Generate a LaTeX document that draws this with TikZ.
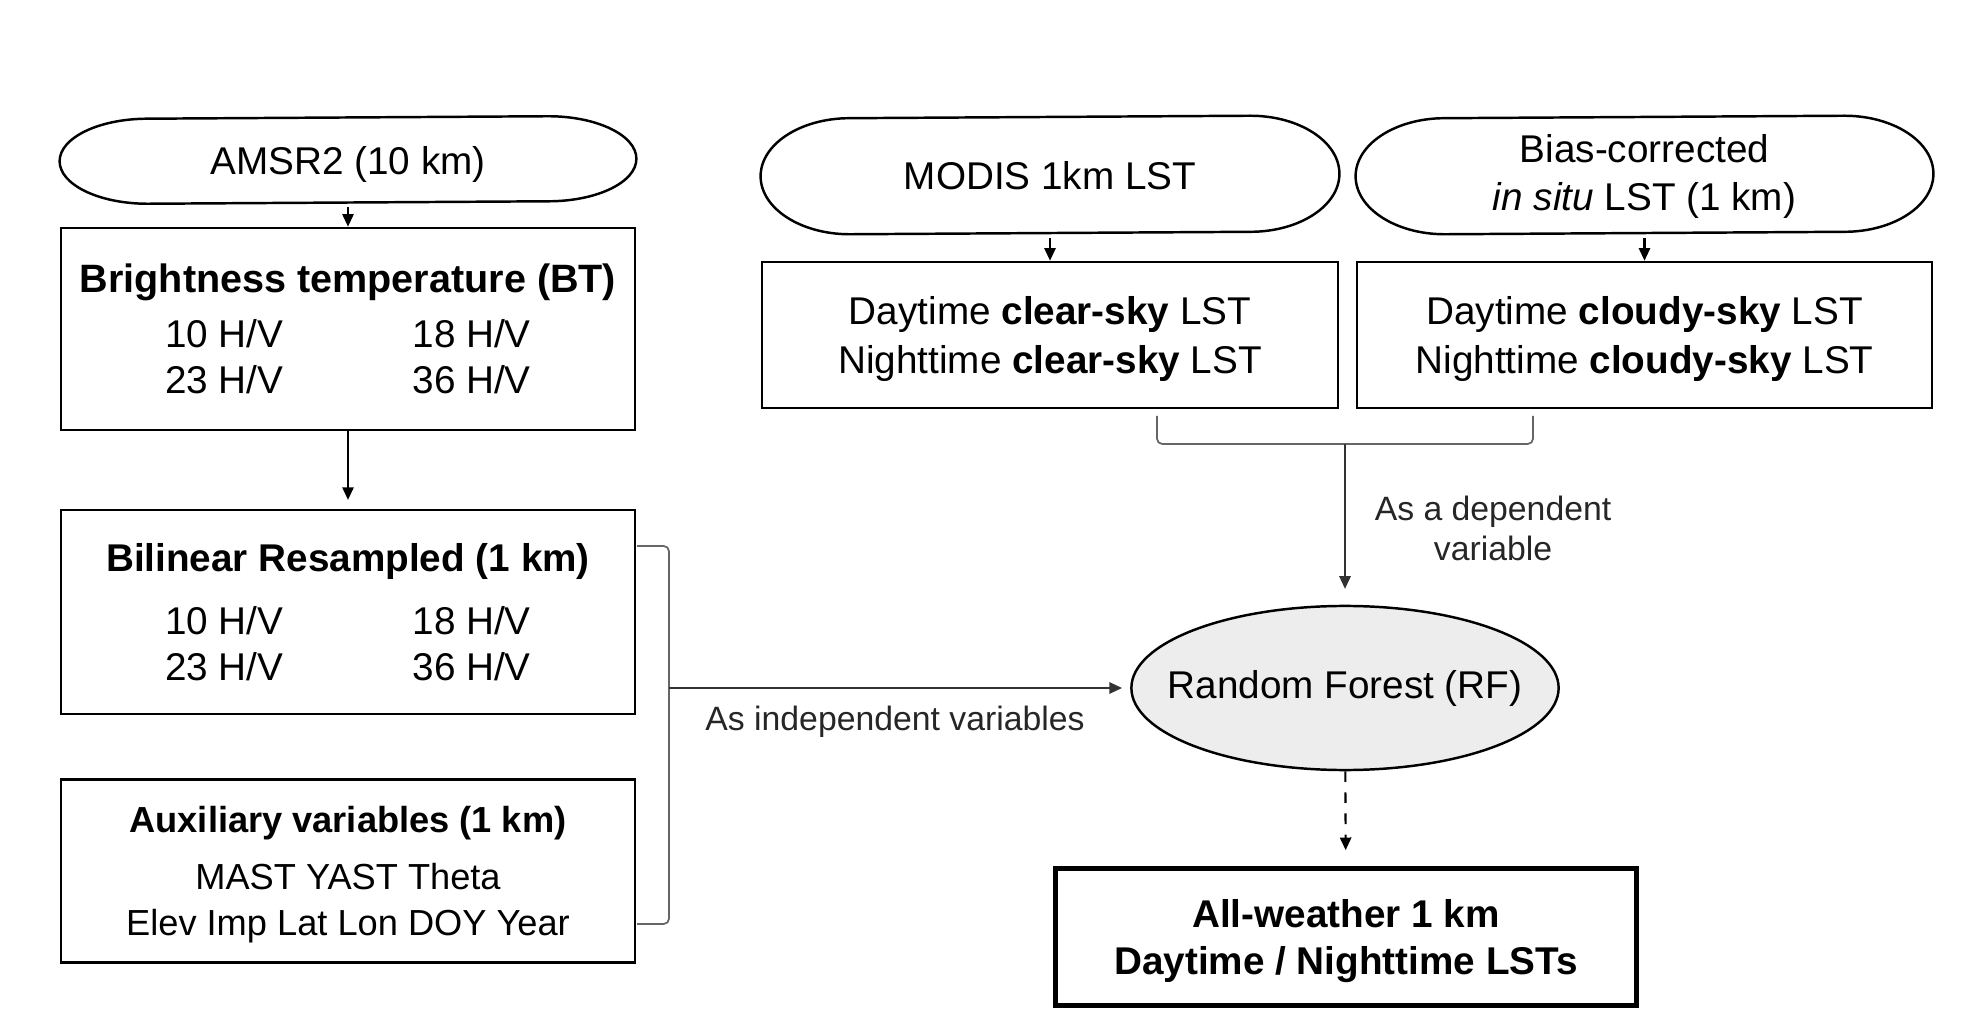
\documentclass[tikz,border=0pt]{standalone}
\usepackage{fontspec}
\setmainfont{Liberation Sans}
\usetikzlibrary{arrows.meta,shapes.geometric}
\newlength{\hvgap}\setlength{\hvgap}{1.29cm}
% outline with half-elliptic ends round a node: name, x radius, y radius
\newcommand\pillline[3]{%
  \draw[line width=0.7pt] ([xshift=-#2]#1.north east)
    arc[start angle=90,end angle=-90,x radius=#2,y radius=#3]
    -- ([xshift=#2]#1.south west)
    arc[start angle=270,end angle=90,x radius=#2,y radius=#3] -- cycle;}

\begin{document}
\begin{tikzpicture}[x=0.01cm,y=-0.01cm,font=\fontsize{11}{13.1}\selectfont,
  box/.style={draw,line width=0.7pt,minimum width=5.74cm,align=center,inner sep=0pt,text depth=0pt},
  pill/.style={box,draw=none},
  lnk/.style={-{Triangle[length=3.6pt,width=3.2pt]},line width=0.6pt},
  brk/.style={draw=black!60,line width=0.5pt,rounded corners=1.5pt},
  lbl/.style={font=\fontsize{9.6}{11.4}\selectfont,align=center,text=black!85}]
  \useasboundingbox (0,0) rectangle (1979,1010);

  % left column
  \node[pill,minimum height=0.85cm] (amsr) at (348,160) {AMSR2 (10 km)};
  \node[box,minimum height=2.02cm] (bt) at (348,329)
    {{\fontsize{11.25}{13.1}\selectfont\textbf{Brightness temperature (BT)}}\\[2.6pt]
     10 H/V\hspace{\hvgap}18 H/V\\23 H/V\hspace{\hvgap}36 H/V};
  \node[box,minimum height=2.04cm] (bil) at (348,612)
    {\textbf{Bilinear Resampled (1 km)}\\[4.8pt]
     10 H/V\hspace{\hvgap}18 H/V\\23 H/V\hspace{\hvgap}36 H/V};
  \node[box,minimum height=1.83cm,font=\fontsize{10.3}{12.9}\selectfont] (aux) at (348,871)
    {\textbf{Auxiliary variables (1 km)}\\[3.3pt]
     MAST YAST Theta\\Elev Imp Lat Lon DOY Year};
  \pillline{amsr}{0.88cm}{0.425cm}

  % right column
  \node[pill,minimum width=5.76cm,minimum height=1.16cm] (modis) at (1050,175) {MODIS 1km LST};
  \node[pill,minimum width=5.75cm,minimum height=1.16cm,text depth=1.3pt] (bias) at (1644.5,175)
    {Bias-corrected\\[0.5pt]\textit{in situ} LST (1 km)};
  \pillline{modis}{0.89cm}{0.58cm}
  \pillline{bias}{0.89cm}{0.58cm}
  \node[box,minimum width=5.76cm,minimum height=1.46cm] (clear) at (1050,335)
    {Daytime \textbf{clear-sky} LST\\[1pt]Nighttime \textbf{clear-sky} LST};
  \node[box,minimum width=5.75cm,minimum height=1.46cm] (cloudy) at (1644.5,335)
    {Daytime \textbf{cloudy-sky} LST\\[1pt]Nighttime \textbf{cloudy-sky} LST};
  \node[ellipse,draw,fill=black!7,line width=0.7pt,minimum width=4.27cm,
    minimum height=1.64cm,inner sep=0pt] (rf) at (1345,688) {\makebox[0pt]{Random Forest (RF)}};
  \node[box,line width=1.4pt,minimum width=5.8cm,minimum height=1.37cm] (allw) at (1346,937)
    {\textbf{All-weather 1 km}\\[0.5pt]\textbf{Daytime / Nighttime LSTs}};

  \node[lbl] (indep) at (895,722) {As independent variables};
  \node[lbl] (dep) at (1493,528) {As a dependent\\variable};

  % brackets
  \draw[brk] (1157,416) |- (1533,444) -- (1533,416);
  \coordinate (tj) at (1345,444);
  \draw[brk] (637,546) -| (669,924) -- (637,924);
  \coordinate (lj) at (669,688);

  % arrows
  \draw[lnk,shorten <=1pt] (amsr) -- (bt);
  \draw[lnk,shorten >=2.5pt] (bt) -- (bil);
  \draw[lnk,shorten <=1pt] (modis) -- (clear);
  \draw[lnk,shorten <=1pt] (bias) -- (cloudy);
  \draw[lnk,draw=black!80,shorten >=4.5pt] (tj) -- (rf);
  \draw[lnk,draw=black!80,shorten >=2.3pt] (lj) -- (rf);
  \draw[lnk,dashed,shorten >=4.5pt] (rf) -- (allw);
\end{tikzpicture}
\end{document}
